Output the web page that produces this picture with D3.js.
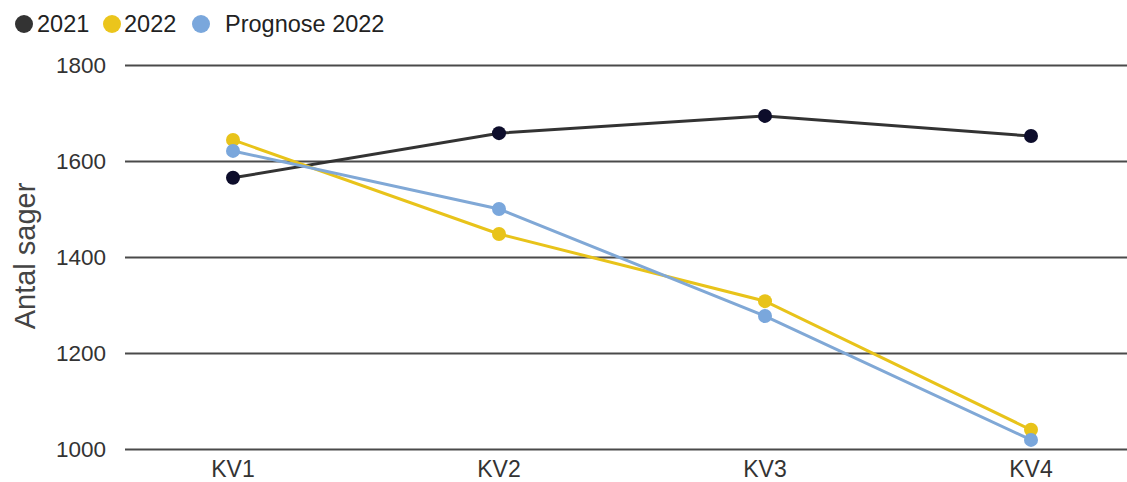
<!DOCTYPE html>
<html lang="da">
<head>
<meta charset="UTF-8">
<title>Antal sager</title>
<script src="https://d3js.org/d3.v7.min.js"></script>
<style>
  body { margin: 0; background: #fff; }
  text { font-family: Arial, "Liberation Sans", sans-serif; fill: #333; }
  .grid line { stroke: #4a4a4a; stroke-width: 2px; }
  .grid path { display: none; }
</style>
</head>
<body>
<svg width="1127" height="482"></svg>
<script>
const kvartaler = ["KV1", "KV2", "KV3", "KV4"];
const vaerdier2021 = [1565, 1658, 1694, 1652];
const vaerdier2022 = [1644, 1448, 1308, 1040];
const prognose2022 = [1621, 1500, 1277, 1019];
const yTicks = [1000, 1200, 1400, 1600, 1800];

const serier = [
  { navn: "2021", values: vaerdier2021, line: "#333", dot: "#0d0d2b", leg: "#333" },
  { navn: "2022", values: vaerdier2022, line: "#e8c31a", dot: "#e8c31a", leg: "#ebc51c" },
  { navn: "Prognose 2022", values: prognose2022, line: "#80a8d6", dot: "#7aa7dc", leg: "#7aa7dc" }
];

const svg = d3.select("svg");

const x = d3.scalePoint().domain(kvartaler).range([100, 1164]).padding(0.5);
const y = d3.scaleLinear().domain([1000, 1800]).range([449, 65]);

// gitterlinjer
svg.append("g")
  .attr("class", "grid")
  .attr("transform", "translate(125,0)")
  .call(d3.axisLeft(y).tickValues(yTicks).tickSize(-1002).tickFormat(""));

// y-akse labels
svg.append("g").selectAll("text")
  .data(yTicks).enter().append("text")
  .attr("x", 106).attr("y", d => y(d)).attr("dy", "0.35em")
  .attr("text-anchor", "end")
  .style("font-size", "22.5px")
  .text(d => d);

// x-akse labels
svg.append("g").selectAll("text")
  .data(kvartaler).enter().append("text")
  .attr("x", d => x(d)).attr("y", 477)
  .attr("text-anchor", "middle")
  .style("font-size", "23px")
  .text(d => d);

svg.append("text")
  .attr("transform", "translate(35,256) rotate(-90)")
  .attr("text-anchor", "middle")
  .style("font-size", "29px")
  .style("fill", "#444")
  .text("Antal sager");

const line = d3.line().x((d, i) => x(kvartaler[i])).y(d => y(d));

serier.forEach(s => {
  svg.append("path")
    .datum(s.values)
    .attr("fill", "none")
    .attr("stroke", s.line)
    .attr("stroke-width", 3)
    .attr("d", line);
});

serier.forEach(s => {
  svg.append("g").selectAll("circle")
    .data(s.values).enter().append("circle")
    .attr("cx", (d, i) => x(kvartaler[i]))
    .attr("cy", d => y(d))
    .attr("r", 7)
    .attr("fill", s.dot);
});

// legende
const legendPos = [{ cx: 24, tx: 37 }, { cx: 112, tx: 124 }, { cx: 201, tx: 225 }];
const legend = svg.append("g");
serier.forEach((s, i) => {
  legend.append("circle")
    .attr("cx", legendPos[i].cx).attr("cy", 24).attr("r", 9)
    .attr("fill", s.leg);
  legend.append("text")
    .attr("x", legendPos[i].tx).attr("y", 24).attr("dy", "0.35em")
    .style("font-size", "23.5px")
    .style("fill", "#222")
    .text(s.navn);
});
</script>
</body>
</html>
